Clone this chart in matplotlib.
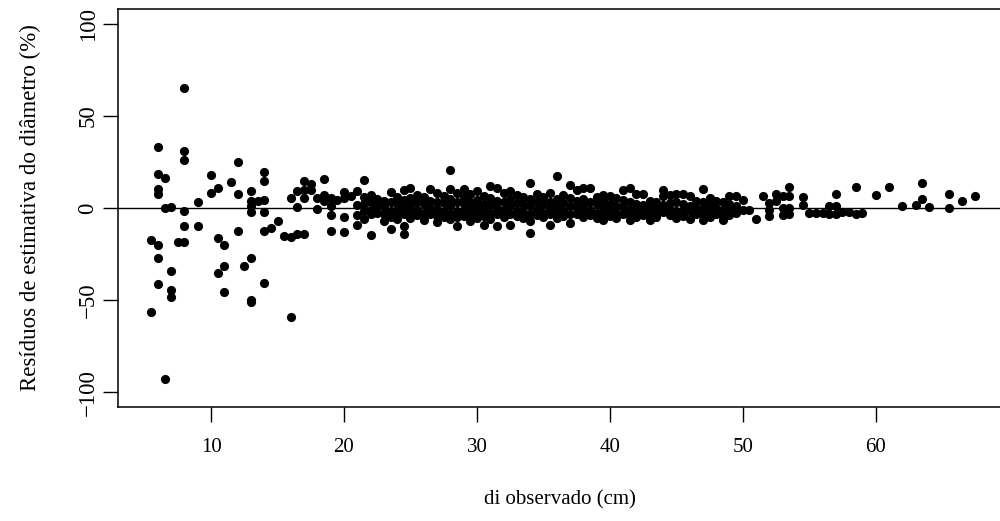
import numpy as np
import matplotlib
matplotlib.use("Agg")
import matplotlib.pyplot as plt

plt.rcParams['font.family'] = ['Liberation Serif', 'DejaVu Serif']

# small trees, wide scatter (diameter in cm, residual in %)
di_small = [8, 6, 8, 8, 12, 6, 6.5, 10, 14, 14, 11.5, 6, 6, 10, 10.5, 12, 13, 13,
            13.5, 14, 13, 13, 14, 9, 6.5, 7, 8, 8, 9, 12, 14, 14.5, 15, 15.5, 16,
            16.5, 17, 5.5, 6, 7.5, 8, 10.5, 11, 6, 7, 10.5, 11, 12.5, 13, 14, 6, 7,
            7, 11, 13, 13, 5.5, 16, 6.5]
res_small = [65.3, 33.2, 30.7, 25.8, 24.9, 18.4, 16.2, 17.9, 19.8, 14.4, 13.9, 10.3,
             7.4, 8.1, 10.6, 7.4, 9.4, 3.6, 3.6, 4.3, 0.9, -2.4, -2.4, 3.4, -0.2, 0.5,
             -1.5, -9.8, -9.8, -12.5, -12.5, -10.7, -7.2, -15.0, -15.7, -14.1, -14.1,
             -17.2, -20.2, -18.4, -18.4, -16.3, -20.2, -27.3, -34.3, -35.2, -31.3,
             -31.6, -26.9, -40.5, -41.2, -44.6, -48.2, -45.7, -49.7, -51.1, -56.2,
             -59.0, -92.6]

# transition 16-21 cm
di_mid = [16, 16.5, 16.5, 17, 17, 17, 17.5, 17.5, 18, 18, 18.5, 18.5, 18.5, 19, 19,
          19, 19, 19.5, 20, 20, 20, 20, 20.5, 21, 21, 21, 21]
res_mid = [5.7, 9.5, 0.3, 14.4, 9.9, 5.4, 13.0, 9.9, 5.4, -0.5, 15.9, 7.2, 3.6, 5.4,
           0.9, -3.6, -12.5, 4.3, 8.5, 5.4, -4.9, -13.0, 6.5, 9.5, 1.8, -3.6, -9.4]

# dense band 21.5-50 cm
band = {
    21.5: [15.3, 6.0, 2.0, -1.5, -5.8],
    22.0: [7.2, 3.0, -1.0, -3.5, -14.8],
    22.5: [5.0, 1.0, -2.5],
    23.0: [4.0, 0.5, -3.0, -7.2],
    23.5: [8.7, 3.0, -1.5, -5.0, -11.2],
    24.0: [6.0, 2.0, -2.0, -6.0],
    24.5: [9.9, 4.5, 0.5, -3.5, -9.9, -14.1],
    25.0: [10.8, 5.4, 1.5, -2.0, -5.5],
    25.5: [7.0, 3.0, -1.0, -4.0],
    26.0: [6.0, 2.0, -2.5, -6.5],
    26.5: [10.3, 4.0, 0.0, -3.5],
    27.0: [8.0, 3.5, -0.5, -4.5, -7.5],
    27.5: [6.5, 2.5, -2.0, -5.0],
    28.0: [20.7, 10.5, 5.0, 1.0, -3.0, -6.0],
    28.5: [8.0, 3.0, -1.5, -5.0, -9.9],
    29.0: [10.5, 6.0, 2.0, -2.0, -4.5],
    29.5: [7.5, 3.5, -0.5, -3.5, -7.0],
    30.0: [9.0, 4.5, 1.0, -2.5, -5.5],
    30.5: [6.5, 2.0, -1.5, -4.5, -9.0],
    31.0: [11.7, 5.5, 1.5, -2.5, -6.0],
    31.5: [10.8, 4.0, 0.0, -3.5, -9.9],
    32.0: [8.0, 3.0, -1.0, -5.0],
    32.5: [9.0, 5.0, 1.0, -3.0, -9.0],
    33.0: [7.0, 2.5, -1.5, -4.5],
    33.5: [6.0, 2.0, -2.0, -5.5],
    34.0: [13.5, 5.0, 1.0, -3.0, -7.2, -13.5],
    34.5: [7.5, 3.0, -1.0, -4.0],
    35.0: [6.0, 2.0, -2.5, -5.0],
    35.5: [8.0, 3.5, -0.5, -3.5, -9.0],
    36.0: [17.5, 5.0, 1.5, -2.0, -5.5],
    36.5: [7.0, 2.5, -1.5, -4.5],
    37.0: [12.6, 5.5, 1.0, -3.0, -8.1],
    37.5: [9.9, 4.0, 0.0, -3.5],
    38.0: [10.8, 5.0, 1.5, -2.0, -5.0],
    38.5: [10.8, 3.0, -1.0, -4.0],
    39.0: [6.0, 2.0, -2.5, -5.5],
    39.5: [7.2, 4.5, 0.5, -3.0, -6.3],
    40.0: [6.5, 2.0, -1.5, -4.5],
    40.5: [5.5, 1.0, -2.5, -5.5],
    41.0: [9.9, 4.5, 0.5, -3.0],
    41.5: [10.8, 3.0, -1.0, -4.0, -6.5],
    42.0: [7.6, 2.0, -2.0, -5.0],
    42.5: [7.6, 1.5, -1.5, -4.0],
    43.0: [4.0, 0.0, -3.0, -6.5],
    43.5: [3.5, 0.5, -2.5, -5.0],
    44.0: [9.9, 6.3, 1.5, -2.0],
    44.5: [7.2, 2.5, -1.0, -4.0],
    45.0: [7.6, 3.0, -1.5, -5.5],
    45.5: [7.6, 2.0, -2.0, -4.5],
    46.0: [6.3, 1.0, -1.5, -6.0],
    46.5: [4.0, 0.0, -3.0],
    47.0: [10.3, 3.0, -0.5, -3.5, -6.5],
    47.5: [5.4, 1.5, -2.0, -5.0],
    48.0: [4.0, 0.0, -3.0],
    48.5: [3.0, -1.0, -4.5, -6.5],
    49.0: [6.3, 2.0, -1.5, -4.0],
    49.5: [6.3, 1.0, -2.5],
    50.0: [4.5, -1.0],
}

# large trees
di_large = [50.5, 51, 51.5, 52, 52, 52, 52.5, 52.5, 53, 53, 53, 53.5, 53.5, 53.5,
            53.5, 54.5, 54.5, 55, 55.5, 56, 56.5, 56.5, 57, 57, 57, 57.5, 58, 58.5,
            58.5, 59, 60, 61, 62, 63, 63.5, 63.5, 64, 65.5, 65.5, 66.5, 67.5]
res_large = [-0.9, -5.8, 6.3, 2.7, -0.9, -4.5, 7.6, 3.6, 6.3, 0.0, -3.6, 11.2, 6.3,
             0.0, -3.3, 5.8, 1.8, -2.7, -2.7, -2.7, -3.3, 0.9, 7.6, 0.9, -3.3, -2.1,
             -2.1, 11.2, -3.3, -2.7, 6.8, 11.2, 0.9, 1.4, 13.5, 5.0, 0.3, 7.7, 0.0,
             4.0, 6.3]

di_band = [d for d, vals in band.items() for _ in vals]
res_band = [v for vals in band.values() for v in vals]

di = np.array(di_small + di_mid + di_band + di_large)
res = np.array(res_small + res_mid + res_band + res_large)

fig = plt.figure(figsize=(10, 5.21), dpi=100)
ax = fig.add_axes([0.118, 0.2188, 0.884, 0.7639])

ax.plot(di, res, 'o', color='black', markersize=6.6, markeredgewidth=0)
ax.axhline(0, color='black', linewidth=1.0)

ax.set_xlim(3.0, 69.5)
ax.set_ylim(-108, 108)
ax.set_xticks([10, 20, 30, 40, 50, 60])
ax.set_yticks([-100, -50, 0, 50, 100])

for s in ax.spines.values():
    s.set_linewidth(1.1)

ax.tick_params(axis='both', direction='out', length=11, width=1.0)
ax.tick_params(axis='x', labelsize=15, pad=11)
ax.tick_params(axis='y', labelsize=16.5, pad=3)
for lab in ax.get_yticklabels():
    lab.set_rotation(90)
    lab.set_va('center')

ax.set_xlabel('di observado (cm)', fontsize=15, labelpad=24)
ax.set_ylabel('Resíduos de estimativa do diâmetro (%)', fontsize=16.5, labelpad=26)

fig.savefig('out.png', dpi=100)
